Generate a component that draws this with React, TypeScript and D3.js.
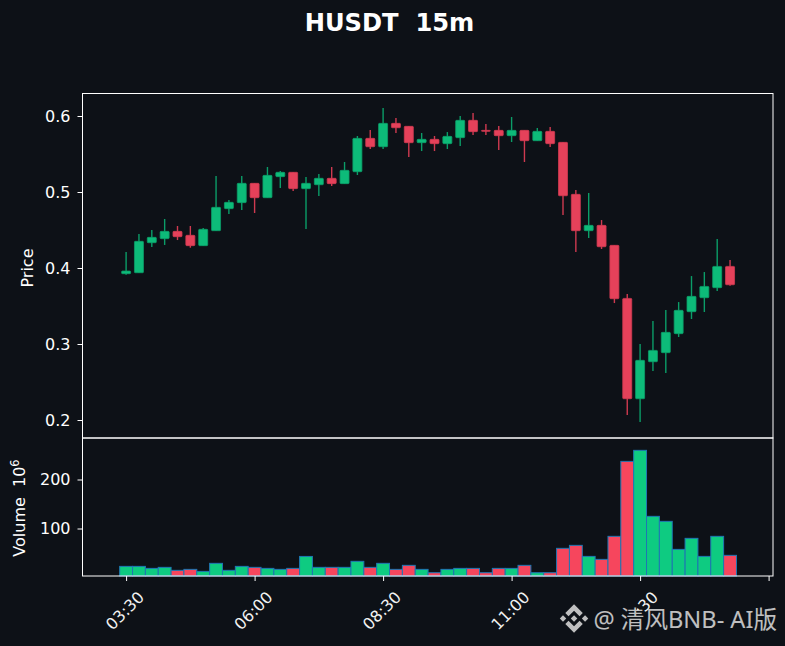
import { useEffect, useRef } from "react";
import * as d3 from "d3";

const WIDTH = 785;
const HEIGHT = 646;

const BG = "#0d1117";
const UP = "#0dbb79";
const DOWN = "#e5415a";
const WICK_UP = "#0b9d68";
const WICK_DOWN = "#cf3a50";
const VOL_UP = "#0ecb81";
const VOL_DOWN = "#f6465d";

// 15m candles, one list per field
const opens = [
  0.3925, 0.3938, 0.4333, 0.4386, 0.4482, 0.443, 0.4294, 0.4491, 0.4781, 0.486, 0.5114, 0.4925,
  0.5202, 0.5259, 0.5044, 0.5096, 0.518, 0.511, 0.5267, 0.5706, 0.5596, 0.5903, 0.5864, 0.5649,
  0.5693, 0.5636, 0.5715, 0.5943, 0.5811, 0.5811, 0.5741, 0.5811, 0.5675, 0.5798, 0.5653, 0.4969,
  0.4491, 0.4561, 0.4298, 0.36, 0.228, 0.2767, 0.2886, 0.3136, 0.3425, 0.3609, 0.3741, 0.4021,
];
const highs = [
  0.421, 0.4447, 0.45, 0.4645, 0.4553, 0.4553, 0.4526, 0.521, 0.4895, 0.521, 0.5114, 0.5329,
  0.5276, 0.5259, 0.5197, 0.5237, 0.5329, 0.5395, 0.5737, 0.5816, 0.6105, 0.5974, 0.5864, 0.5776,
  0.5737, 0.5789, 0.6, 0.6039, 0.5895, 0.5868, 0.5987, 0.5811, 0.5842, 0.5855, 0.5653, 0.5026,
  0.4987, 0.4631, 0.4298, 0.3657, 0.2999, 0.3302, 0.3447, 0.3552, 0.3894, 0.3947, 0.4381, 0.4105,
];
const lows = [
  0.3912, 0.3938, 0.4276, 0.4303, 0.4368, 0.4267, 0.4294, 0.4491, 0.471, 0.4763, 0.4724, 0.4925,
  0.5053, 0.5013, 0.4513, 0.4947, 0.5079, 0.511, 0.5224, 0.5566, 0.5566, 0.5776, 0.546, 0.5539,
  0.5539, 0.5566, 0.5605, 0.575, 0.575, 0.5553, 0.5658, 0.5395, 0.5675, 0.5592, 0.4697, 0.421,
  0.4394, 0.425, 0.3539, 0.2065, 0.1973, 0.2644, 0.2618, 0.3092, 0.3329, 0.3421, 0.3697, 0.3767,
];
const closes = [
  0.396, 0.4351, 0.4403, 0.4482, 0.4412, 0.4294, 0.4509, 0.4798, 0.4864, 0.5114, 0.4925, 0.5219,
  0.5259, 0.5044, 0.5114, 0.518, 0.511, 0.5285, 0.5706, 0.5596, 0.5903, 0.5846, 0.5649, 0.5693,
  0.5636, 0.5732, 0.5943, 0.5794, 0.5798, 0.5741, 0.5811, 0.5675, 0.5798, 0.5636, 0.4951, 0.4491,
  0.4561, 0.428, 0.3596, 0.228, 0.2785, 0.2916, 0.3153, 0.3443, 0.3627, 0.3758, 0.4021, 0.378,
];
// volume in units of 10^6
const volumes = [
  22.7, 22.7, 18.6, 20.7, 14.6, 16.6, 12.5, 28.9, 14.6, 22.7, 20.7, 18.6,
  16.6, 18.6, 43, 20.7, 20.7, 20.7, 33, 20.7, 28.9, 16.6, 24.8, 16.6,
  9.8, 16.6, 18.6, 18.6, 9.8, 18.6, 18.6, 24.8, 9.8, 9.8, 59.5, 65.6,
  43.1, 37, 84, 237, 259.5, 124.8, 114.6, 57.4, 79.9, 43.1, 84, 45.2,
];
const timeTicks = [0, 10, 20, 30, 40, 50];
const timeLabels = ["03:30", "06:00", "08:30", "11:00", "13:30", ""];
const priceTicks = [0.2, 0.3, 0.4, 0.5, 0.6];
const volumeTicks = [100, 200];

const candles = opens.map((open, i) => ({
  i,
  open,
  high: highs[i],
  low: lows[i],
  close: closes[i],
  volume: volumes[i],
  up: closes[i] >= open,
}));

// Exchange logo outline on a 32 unit box
const LOGO_PATHS = [
  "M9.79 13.45 16 7.24l6.21 6.21 3.61-3.61L16 0 6.18 9.84z",
  "M0 16l3.61-3.61L7.22 16l-3.61 3.61z",
  "M9.79 18.55 16 24.76l6.21-6.21 3.61 3.61L16 32l-9.82-9.82z",
  "M24.78 16l3.61-3.61L32 16l-3.61 3.61z",
  "M19.66 16 16 12.34 12.34 16 16 19.66z",
];

export default function App() {
  const svgRef = useRef<SVGSVGElement>(null);

  useEffect(() => {
    const svg = d3.select(svgRef.current);
    svg.selectAll("*").remove();

    const left = 82.5;
    const right = 773;
    const top = 93.5;
    const split = 438;
    const bottom = 576;

    const x = d3.scaleLinear().domain([0, 50]).range([126.1, 768.6]);
    const yPrice = d3.scaleLinear().domain([0.2, 0.6]).range([420, 116]);
    const yVol = d3.scaleLinear().domain([100, 200]).range([528.5, 479.5]);
    const step = x(1) - x(0);
    const bodyW = step * 0.7;

    const font = "'DejaVu Sans', sans-serif";

    svg.append("text")
      .attr("x", 389.5).attr("y", 31.3)
      .attr("text-anchor", "middle").attr("fill", "#fff")
      .attr("font-family", font).attr("font-size", "24.2px").attr("font-weight", 700)
      .style("white-space", "pre")
      .text("HUSDT  15m");

    // Volume bars
    svg.append("g").selectAll("rect")
      .data(candles)
      .enter()
      .append("rect")
      .attr("x", (d) => x(d.i) - step / 2)
      .attr("width", step)
      .attr("y", (d) => yVol(d.volume))
      .attr("height", (d) => bottom - yVol(d.volume))
      .attr("fill", (d) => (d.up ? VOL_UP : VOL_DOWN))
      .attr("stroke", "#1f77b4")
      .attr("stroke-width", 1);

    // Wicks then bodies
    svg.append("g").selectAll("line")
      .data(candles)
      .enter()
      .append("line")
      .attr("x1", (d) => x(d.i)).attr("x2", (d) => x(d.i))
      .attr("y1", (d) => yPrice(d.high)).attr("y2", (d) => yPrice(d.low))
      .attr("stroke", (d) => (d.up ? WICK_UP : WICK_DOWN))
      .attr("stroke-width", 1.4);

    svg.append("g").selectAll("rect")
      .data(candles)
      .enter()
      .append("rect")
      .attr("x", (d) => x(d.i) - bodyW / 2)
      .attr("width", bodyW)
      .attr("y", (d) => yPrice(Math.max(d.open, d.close)))
      .attr("height", (d) => Math.abs(yPrice(d.open) - yPrice(d.close)))
      .attr("rx", 0.8)
      .attr("fill", (d) => (d.up ? UP : DOWN))
      .attr("stroke", (d) => (d.up ? WICK_UP : WICK_DOWN))
      .attr("stroke-width", 0.8);

    // Frames
    svg.append("rect")
      .attr("x", left).attr("y", top).attr("width", right - left).attr("height", split - top)
      .attr("fill", "none").attr("stroke", "#fff").attr("stroke-width", 1);
    svg.append("rect")
      .attr("x", left).attr("y", split).attr("width", right - left).attr("height", bottom - split)
      .attr("fill", "none").attr("stroke", "#fff").attr("stroke-width", 1);

    // Axes
    const priceAxis = svg.append("g").attr("transform", `translate(${left},0)`)
      .call(d3.axisLeft(yPrice).tickValues(priceTicks).tickSize(5).tickPadding(7).tickFormat(d3.format(".1f")));
    const volAxis = svg.append("g").attr("transform", `translate(${left},0)`)
      .call(d3.axisLeft(yVol).tickValues(volumeTicks).tickSize(5).tickPadding(7).tickFormat(d3.format("d")));
    const timeAxis = svg.append("g").attr("transform", `translate(0,${bottom})`)
      .call(d3.axisBottom(x).tickValues(timeTicks).tickSize(5).tickPadding(5)
        .tickFormat((_d, i) => timeLabels[i]));

    for (const axis of [priceAxis, volAxis, timeAxis]) {
      axis.select(".domain").remove();
      axis.selectAll(".tick line").attr("stroke", "#fff");
      axis.selectAll(".tick text")
        .attr("fill", "#fff").attr("font-family", font).attr("font-size", "16px");
    }
    timeAxis.selectAll(".tick text")
      .attr("fill", "#f2f2f2")
      .attr("text-anchor", "middle")
      .attr("dy", 0)
      .attr("y", 0)
      .attr("transform", "translate(-1,35.5) rotate(-45)")
      .attr("dominant-baseline", "middle");

    svg.append("text")
      .attr("transform", "translate(33,268) rotate(-90)")
      .attr("text-anchor", "middle").attr("fill", "#fff")
      .attr("font-family", font).attr("font-size", "16px")
      .text("Price");

    const volLabel = svg.append("text")
      .attr("transform", "translate(25,508) rotate(-90)")
      .attr("text-anchor", "middle").attr("fill", "#fff")
      .attr("font-family", font).attr("font-size", "16px")
      .style("white-space", "pre");
    volLabel.append("tspan").text("Volume  10");
    volLabel.append("tspan").attr("dy", -6.5).attr("font-size", "11.5px").text("6");

    // Watermark, on a patch that hides what lies under its text
    svg.append("path")
      .attr("d", "M592 604H637V612H782V638H592Z")
      .attr("fill", BG);
    const mark = svg.append("g").attr("opacity", 0.82);
    const logo = mark.append("g").attr("transform", "translate(559.8,604.2) scale(0.89)").attr("fill", "#e6e6e6");
    for (const d of LOGO_PATHS) logo.append("path").attr("d", d);
    mark.append("text")
      .attr("x", 593.5).attr("y", 627.7)
      .attr("fill", "#e6e6e6")
      .attr("font-family", "'Noto Sans', 'Noto Sans CJK SC', sans-serif").attr("font-size", "23.6px")
      .text("@ 清风BNB- AI版");
  }, []);

  return (
    <div style={{ position: "fixed", left: 0, top: 0, width: WIDTH, height: HEIGHT, background: BG }}>
      <svg ref={svgRef} width={WIDTH} height={HEIGHT} style={{ display: "block" }} />
    </div>
  );
}
